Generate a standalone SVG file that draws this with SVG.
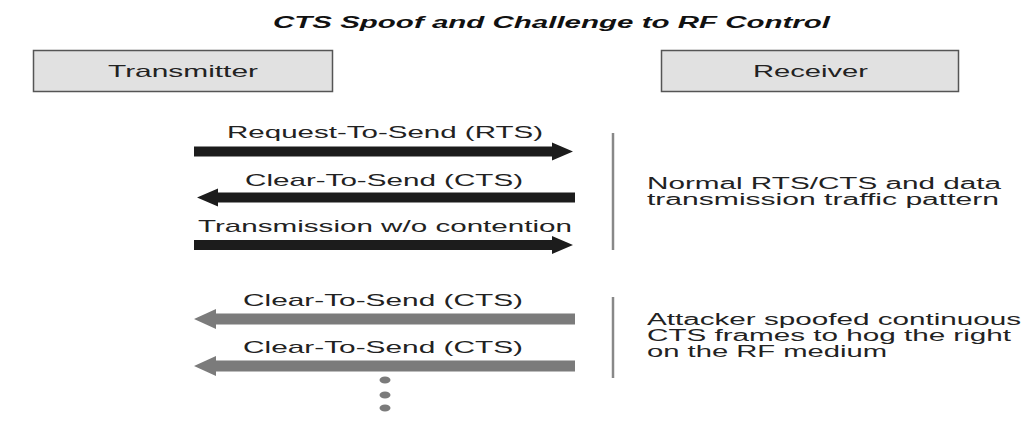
<svg xmlns="http://www.w3.org/2000/svg" width="1030" height="425" viewBox="0 0 1030 425">
<style>
  text { font-family: "Liberation Sans", Arial, sans-serif; fill: #222; }
  .title { font-size: 16px; font-weight: bold; font-style: italic; fill: #111; }
  .lbl { font-size: 17px; }
  .note { font-size: 16px; }
  .box { fill: #e1e1e1; stroke: #555; stroke-width: 1.5; }
  .blk { fill: #1c1c1c; }
  .gry { fill: #7b7b7b; }
  .sep { stroke: #888; stroke-width: 2.5; fill: none; }
  .dot { fill: #7b7b7b; }
</style>
<rect x="0" y="0" width="1030" height="425" fill="#ffffff"/>
<text class="title" x="273" y="28" textLength="557" lengthAdjust="spacingAndGlyphs">CTS Spoof and Challenge to RF Control</text>

<g id="transmitter">
  <rect class="box" x="33.5" y="50.5" width="299" height="41"/>
  <text class="lbl" x="108" y="77" textLength="150" lengthAdjust="spacingAndGlyphs">Transmitter</text>
</g>
<g id="receiver">
  <rect class="box" x="661.5" y="50.5" width="297" height="41"/>
  <text class="lbl" x="753" y="77" textLength="115" lengthAdjust="spacingAndGlyphs">Receiver</text>
</g>

<g id="connectors">
  <polygon class="blk" points="194,146.5 552,146.5 552,142.5 573,151.5 552,160.5 552,156.5 194,156.5"/>
  <polygon class="blk" points="575,192.5 218,192.5 218,188.5 197,197.5 218,206.5 218,202.5 575,202.5"/>
  <polygon class="blk" points="194,240 552,240 552,236 573,245 552,254 552,250 194,250"/>
  <polygon class="gry" points="575,313.5 216,313.5 216,309 194,319 216,329 216,324.5 575,324.5"/>
  <polygon class="gry" points="575,360.5 216,360.5 216,356 194,366 216,376 216,371.5 575,371.5"/>
</g>

<g id="labels">
  <text class="lbl" x="227" y="138" textLength="316" lengthAdjust="spacingAndGlyphs">Request-To-Send (RTS)</text>
  <text class="lbl" x="245" y="186" textLength="278" lengthAdjust="spacingAndGlyphs">Clear-To-Send (CTS)</text>
  <text class="lbl" x="198" y="232" textLength="374" lengthAdjust="spacingAndGlyphs">Transmission w/o contention</text>
  <text class="lbl" x="243" y="306" textLength="280" lengthAdjust="spacingAndGlyphs">Clear-To-Send (CTS)</text>
  <text class="lbl" x="243" y="353" textLength="280" lengthAdjust="spacingAndGlyphs">Clear-To-Send (CTS)</text>
</g>

<g id="ellipsis">
  <ellipse class="dot" cx="385" cy="380" rx="5.5" ry="3.5"/>
  <ellipse class="dot" cx="385" cy="395" rx="5.5" ry="3.5"/>
  <ellipse class="dot" cx="385" cy="408" rx="5.5" ry="3.5"/>
</g>

<g id="normal-note">
  <line class="sep" x1="613" y1="133" x2="613" y2="250"/>
  <text class="note" x="647" y="189" textLength="354" lengthAdjust="spacingAndGlyphs">Normal RTS/CTS and data</text>
  <text class="note" x="647" y="205" textLength="352" lengthAdjust="spacingAndGlyphs">transmission traffic pattern</text>
</g>

<g id="attack-note">
  <line class="sep" x1="613" y1="297" x2="613" y2="378"/>
  <text class="note" x="647" y="325" textLength="374" lengthAdjust="spacingAndGlyphs">Attacker spoofed continuous</text>
  <text class="note" x="647" y="341" textLength="364" lengthAdjust="spacingAndGlyphs">CTS frames to hog the right</text>
  <text class="note" x="647" y="357" textLength="240" lengthAdjust="spacingAndGlyphs">on the RF medium</text>
</g>
</svg>
